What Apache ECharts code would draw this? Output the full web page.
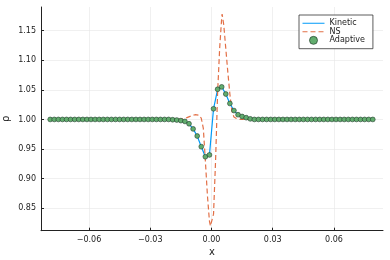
<!DOCTYPE html>
<html><head><meta charset="utf-8">
<script src="https://cdn.jsdelivr.net/npm/echarts@6/dist/echarts.min.js"></script>
<style>html,body{margin:0;padding:0;background:#fff}#c{width:390px;height:260px}</style>
</head><body><div id="c"></div>
<script>
// Adaptive / kinetic sample positions and density values
const xCells = [-0.079,-0.077,-0.075,-0.073,-0.071,-0.069,-0.067,-0.065,-0.063,-0.061,
  -0.059,-0.057,-0.055,-0.053,-0.051,-0.049,-0.047,-0.045,-0.043,-0.041,
  -0.039,-0.037,-0.035,-0.033,-0.031,-0.029,-0.027,-0.025,-0.023,-0.021,
  -0.019,-0.017,-0.015,-0.013,-0.011,-0.009,-0.007,-0.005,-0.003,-0.001,
  0.001,0.003,0.005,0.007,0.009,0.011,0.013,0.015,0.017,0.019,
  0.021,0.023,0.025,0.027,0.029,0.031,0.033,0.035,0.037,0.039,
  0.041,0.043,0.045,0.047,0.049,0.051,0.053,0.055,0.057,0.059,
  0.061,0.063,0.065,0.067,0.069,0.071,0.073,0.075,0.077,0.079];
const adaptiveRho = [1,1,1,1,1,1,1,1,1,1,
  1,1,1,1,1,1,1,1,1,1,
  1,1,1,1,1,1,1,1,1,1,
  0.9995,0.999,0.998,0.9966,0.9927,0.984,0.972,0.954,0.937,0.940,
  1.018,1.051,1.055,1.043,1.027,1.015,1.008,1.005,1.003,1.001,
  1,1,1,1,1,1,1,1,1,1,
  1,1,1,1,1,1,1,1,1,1,
  1,1,1,1,1,1,1,1,1,1];
const kineticRho = [1,1,1,1,1,1,1,1,1,1,
  1,1,1,1,1,1,1,1,1,1,
  1,1,1,1,1,1,1,1,1,1,
  0.9995,0.999,0.998,0.9966,0.9927,0.984,0.972,0.954,0.937,0.940,
  1.018,1.051,1.055,1.043,1.027,1.015,1.008,1.005,1.003,1.001,
  1,1,1,1,1,1,1,1,1,1,
  1,1,1,1,1,1,1,1,1,1,
  1,1,1,1,1,1,1,1,1,1];
// Navier-Stokes solution
const nsX = [-0.079,-0.016,-0.014,-0.012,-0.010,-0.008,-0.006,-0.005,-0.004,-0.003,-0.002,-0.001,-0.0005,
  0.000,0.001,0.002,0.003,0.004,0.005,0.0052,0.006,0.007,0.008,0.009,0.010,0.011,0.012,0.014,0.079];
const nsRho = [1.000,1.000,1.001,1.003,1.006,1.008,1.007,1.002,0.985,0.930,0.872,0.828,0.820,
  0.823,0.840,0.930,1.045,1.120,1.172,1.178,1.160,1.120,1.080,1.043,1.014,1.004,1.002,1.000,1.000];
// Ticks
const xTicks = [-0.06,-0.03,0,0.03,0.06];
const xTickLabels = ['\u22120.06','\u22120.03','0.00','0.03','0.06'];
const yTicks = [0.85,0.90,0.95,1.00,1.05,1.10,1.15];
const yTickLabels = ['0.85','0.90','0.95','1.00','1.05','1.10','1.15'];

const zip = (a,b) => a.map((v,i)=>[v,b[i]]);
const chart = echarts.init(document.getElementById('c'), null, {renderer:'canvas'});
const txt = '#222';
const gridLine = {show:true, lineStyle:{color:'#e6e6e6', width:0.6}};
const hidden = {opacity:0};
chart.setOption({
  animation:false,
  backgroundColor:'#fff',
  grid:{left:41, right:7, top:7, bottom:29.3, containLabel:false, outerBoundsMode:'none'},
  xAxis:{type:'value', min:-0.0835, max:0.084,
    name:'x', nameLocation:'middle', nameGap:17, nameMoveOverlap:false, nameTextStyle:{color:txt, fontSize:10, fontFamily:'DejaVu Sans'},
    axisLine:{show:true, onZero:false, lineStyle:{color:'#222', width:1}},
    axisTick:{show:true, inside:true, length:3, customValues:xTicks, lineStyle:{color:'#222'}},
    axisLabel:{customValues:xTicks, fontSize:8, color:txt, fontFamily:'DejaVu Sans', margin:5,
      formatter:(v)=>{const i=xTicks.findIndex(t=>Math.abs(t-v)<1e-9); return i>=0?xTickLabels[i]:'';}},
    splitLine:gridLine},
  yAxis:{type:'value', min:0.812, max:1.19,
    name:'ρ', nameLocation:'middle', nameGap:30, nameMoveOverlap:false, nameRotate:90, nameTextStyle:{color:txt, fontSize:10, fontFamily:'DejaVu Sans'},
    axisLine:{show:true, onZero:false, lineStyle:{color:'#222', width:1}},
    axisTick:{show:true, inside:true, length:3, customValues:yTicks, lineStyle:{color:'#222'}},
    axisLabel:{customValues:yTicks, fontSize:8, color:txt, fontFamily:'DejaVu Sans', margin:5,
      formatter:(v)=>{const i=yTicks.findIndex(t=>Math.abs(t-v)<1e-9); return i>=0?yTickLabels[i]:'';}},
    splitLine:gridLine},
  legend:{orient:'vertical', left:299, top:15, padding:[4,8,4,3], itemGap:0, itemWidth:22, itemHeight:8,
    backgroundColor:'#fff', borderColor:'#333', borderWidth:0.8, borderRadius:0,
    textStyle:{fontSize:8, color:txt, fontFamily:'DejaVu Sans', lineHeight:8.5},
    lineStyle:{width:1},
    data:[{name:'Kinetic', itemStyle:hidden},{name:'NS', itemStyle:hidden},
      {name:'Adaptive', icon:'circle', itemStyle:{color:'#62ad6e', borderColor:'#1f3d2a', borderWidth:0.7}}]},
  series:[
    {name:'Kinetic', type:'line', data:zip(xCells,kineticRho), showSymbol:false, symbol:'none',
      lineStyle:{color:'#009af9', width:1.2}, itemStyle:{color:'#009af9'}, z:2},
    {name:'NS', type:'line', data:zip(nsX,nsRho), showSymbol:false, symbol:'none',
      lineStyle:{color:'#e26f46', width:1.2, type:[5,3]}, itemStyle:{color:'#e26f46'}, z:3},
    {name:'Adaptive', type:'scatter', data:zip(xCells,adaptiveRho), symbol:'circle', symbolSize:4.8,
      itemStyle:{color:'#62ad6e', borderColor:'#1f3d2a', borderWidth:0.6, opacity:1}, z:4}
  ]
});
</script></body></html>
